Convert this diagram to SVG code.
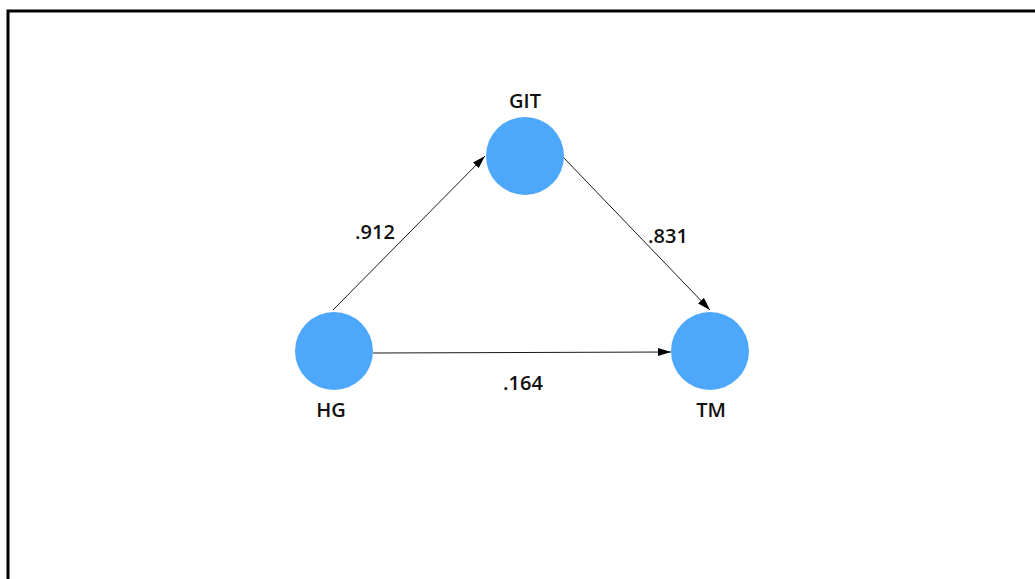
<svg xmlns="http://www.w3.org/2000/svg" width="1035" height="579" viewBox="0 0 1035 579">
<style>
.node{fill:#4da8fc}
.lbl{font-family:"Open Sans","Liberation Sans",sans-serif;font-size:20px;font-weight:600;fill:#111;text-anchor:middle}
.edge{stroke:#1a1a1a;stroke-width:1;fill:none}
</style>
<defs>
<marker id="arr" viewBox="0 0 13 10" refX="13" refY="5" markerWidth="13" markerHeight="10" markerUnits="userSpaceOnUse" orient="auto">
<path d="M0,1 L13,5 L0,9 z" fill="#000"/>
</marker>
</defs>
<rect width="1035" height="579" fill="#fff"/>
<path d="M8,579 V11 H1035" fill="none" stroke="#000" stroke-width="3"/>
<g id="connectors">
<line class="edge" x1="333" y1="310" x2="485" y2="156" marker-end="url(#arr)"/>
<line class="edge" x1="373" y1="353" x2="671" y2="352" marker-end="url(#arr)"/>
<line class="edge" x1="563" y1="157" x2="710" y2="310" marker-end="url(#arr)"/>
<text class="lbl" x="375" y="239">.912</text>
<text class="lbl" x="668" y="243">.831</text>
<text class="lbl" x="523" y="390">.164</text>
</g>
<g id="GIT">
<circle class="node" cx="525" cy="156" r="39"/>
<text class="lbl" x="525" y="108">GIT</text>
</g>
<g id="HG">
<circle class="node" cx="334" cy="351" r="39"/>
<text class="lbl" x="331" y="417">HG</text>
</g>
<g id="TM">
<circle class="node" cx="710" cy="351" r="39"/>
<text class="lbl" x="711" y="417">TM</text>
</g>
</svg>
